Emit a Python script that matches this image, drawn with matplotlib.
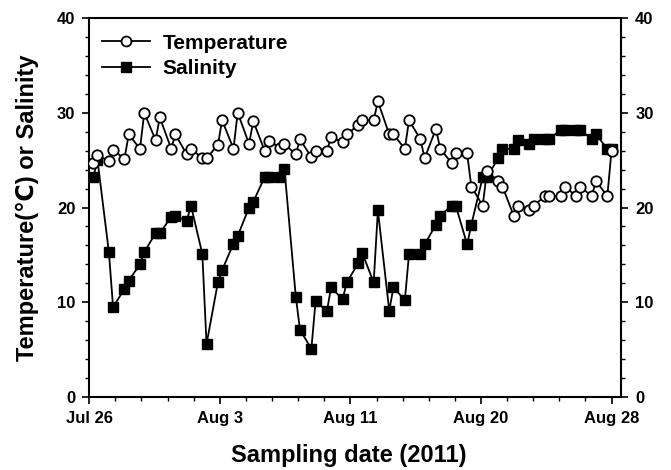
import matplotlib
matplotlib.use('Agg')
import matplotlib.pyplot as plt
import numpy as np

plt.rcParams['font.family'] = ['Liberation Sans', 'DejaVu Sans']
plt.rcParams['font.weight'] = 'bold'

# two samplings per day, 34 days
day = np.repeat(np.arange(34), 2)
sample_offset = np.tile([0.0, 0.27], 34)

temperature = [24.7, 25.5, 24.9, 26.1, 25.1, 27.7, 26.2, 30.0, 27.1, 29.5,
               26.2, 27.7, 25.6, 26.2, 25.2, 25.2, 26.6, 29.2, 26.2, 30.0,
               26.7, 29.1, 26.0, 27.0, 26.3, 26.7, 25.6, 27.2, 25.3, 26.0,
               26.0, 27.4, 26.9, 27.7, 28.7, 29.2, 29.2, 31.2, 27.7, 27.7,
               26.2, 29.2, 27.2, 25.2, 28.3, 26.2, 24.7, 25.7, 25.7, 22.2,
               20.2, 23.8, 22.8, 22.2, 19.1, 20.2, 19.7, 20.2, 21.2, 21.2,
               21.2, 22.2, 21.2, 22.2, 21.2, 22.8, 21.2, 26.0]
salinity = [23.2, 25.0, 15.3, 9.5, 11.4, 12.3, 14.0, 15.3, 17.3, 17.3,
            19.0, 19.1, 18.6, 20.2, 15.1, 5.6, 12.1, 13.4, 16.2, 17.0,
            20.0, 20.6, 23.2, 23.2, 23.2, 24.1, 10.6, 7.1, 5.1, 10.1,
            9.1, 11.6, 10.3, 12.1, 14.1, 15.2, 12.1, 19.7, 9.1, 11.6,
            10.2, 15.1, 15.1, 16.1, 18.2, 19.1, 20.2, 20.2, 16.1, 18.2,
            23.2, 23.2, 25.2, 26.2, 26.2, 27.1, 26.7, 27.2, 27.2, 27.2,
            28.2, 28.2, 28.2, 28.2, 27.2, 27.7, 26.2, 26.2]
date_labels = ['Jul 26', 'Aug 3', 'Aug 11', 'Aug 20', 'Aug 28']

x = day + sample_offset

fig = plt.figure(figsize=(6.71, 4.70), dpi=100)
ax = fig.add_axes([0.133, 0.155, 0.793, 0.807])

ax.plot(x, temperature, color='black', lw=1.3, marker='o', ms=7.5,
        mfc='white', mec='black', mew=1.3, label='Temperature', zorder=3)
ax.plot(x, salinity, color='black', lw=1.3, marker='s', ms=7.5,
        mfc='black', mec='black', label='Salinity', zorder=2)

x0, x1 = -0.26, 33.27
ax.set_xlim(x0, 33.9)
ax.set_ylim(0, 40)
ax.set_xticks(np.linspace(x0, x1, 5))
ax.set_xticks(np.linspace(x0, x1, 21), minor=True)
ax.set_xticklabels(date_labels)
ax.set_yticks(np.arange(0, 41, 10))
ax.set_yticks(np.arange(0, 41, 2), minor=True)

ax.tick_params(which='major', direction='out', length=5, width=1.2,
               labelsize=12, pad=5, right=True, labelright=True)
ax.tick_params(which='minor', direction='out', length=3, width=1.0, right=True)
for sp in ax.spines.values():
    sp.set_linewidth(1.5)

ax.set_xlabel('Sampling date (2011)', fontsize=17, fontweight='bold', labelpad=13)
ax.xaxis.label.set_x(0.488)
ax.set_ylabel('Temperature(\u2103) or Salinity', fontsize=17, fontweight='bold', labelpad=13)

leg = ax.legend(loc='upper left', bbox_to_anchor=(0.024, 0.958), frameon=False,
                fontsize=15, handlelength=2.3, handletextpad=0.6,
                borderaxespad=0, borderpad=0, labelspacing=0.32,
                markerscale=0.95)

fig.savefig('out.png', dpi=100)
